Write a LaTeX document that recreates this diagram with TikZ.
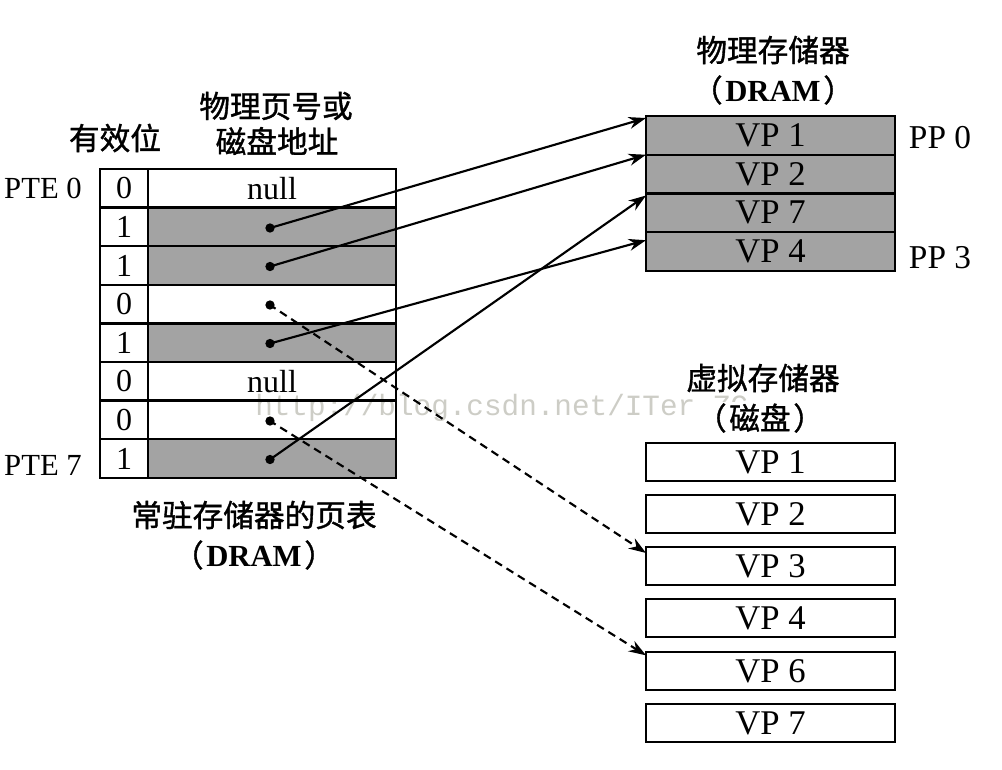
\documentclass[tikz,border=0pt]{standalone}
\usepackage{fontspec}
\setmainfont{Liberation Serif}
\newfontfamily\cjk[FakeBold=1.2]{Noto Sans CJK SC}
\newfontfamily\latb{Liberation Serif}
\newfontfamily\wmfont{Liberation Mono}
\usetikzlibrary{arrows.meta}
\tikzset{
  cell/.style={draw, line width=1.7pt, inner sep=0pt, outer sep=0pt, minimum height=28.95pt,
    font=\fontsize{24}{26}\selectfont},
  vcell/.style={cell, minimum width=36pt},
  acell/.style={cell, minimum width=186pt},
  shaded/.style={fill=black!36},
  mrow/.style={cell, fill=black!36, minimum width=186.75pt, minimum height=29.06pt,
    font=\fontsize{26}{28}\selectfont},
  drow/.style={cell, minimum width=186.75pt, minimum height=28.5pt,
    font=\fontsize{26}{28}\selectfont},
  lbl/.style={inner sep=0pt, font=\fontsize{25}{27}\selectfont},
  ptelbl/.style={inner sep=0pt, font=\fontsize{23}{25}\selectfont},
  cjklbl/.style={inner sep=0pt, font=\cjk\fontsize{23}{26}\selectfont},
  pdot/.style={circle, fill=black, inner sep=0pt, minimum size=7pt},
  link/.style={line width=1.6pt, -{Stealth[length=13pt,width=9pt]}, shorten <=-1pt},
  dlink/.style={link, dash pattern=on 6pt off 4pt},
}
\newcommand{\dram}{（\hspace{2pt}{\latb\bfseries DRAM}\hspace{2pt}）}
\begin{document}
\begin{tikzpicture}[x=0.75pt,y=-0.75pt]
\useasboundingbox (0,0) rectangle (1002,770);
\fill[white] (0,0) rectangle (1002,770);

% watermark
\node[anchor=base west, inner sep=0pt, text={rgb,255:red,205;green,205;blue,198}, font=\wmfont\fontsize{22}{24}\selectfont] (wm) at (255,415) {http://blog.csdn.net/ITer\_ZC};

% page table
\node[vcell] (v0) at (124,188.3) {0};
\node[vcell] (v1) at (124,226.9) {1};
\node[vcell] (v2) at (124,265.5) {1};
\node[vcell] (v3) at (124,304.1) {0};
\node[vcell] (v4) at (124,342.7) {1};
\node[vcell] (v5) at (124,381.3) {0};
\node[vcell] (v6) at (124,419.9) {0};
\node[vcell] (v7) at (124,458.5) {1};
\node[acell] (a0) at (272,188.3) {null};
\node[acell, shaded] (a1) at (272,226.9) {};
\node[acell, shaded] (a2) at (272,265.5) {};
\node[acell] (a3) at (272,304.1) {};
\node[acell, shaded] (a4) at (272,342.7) {};
\node[acell] (a5) at (272,381.3) {null};
\node[acell] (a6) at (272,419.9) {};
\node[acell, shaded] (a7) at (272,458.5) {};

\node[pdot] (d1) at (270,228) {};
\node[pdot] (d2) at (270,266.5) {};
\node[pdot] (d3) at (270,305) {};
\node[pdot] (d4) at (270,343.5) {};
\node[pdot] (d6) at (270,421) {};
\node[pdot] (d7) at (270,459.5) {};

% page table labels
\node[ptelbl] (pte0) at (43,188) {PTE 0};
\node[ptelbl] (pte7) at (43,465) {PTE 7};
\node[cjklbl] (hvalid) at (115,138) {有效位};
\node[cjklbl] (haddr1) at (276,106) {物理页号或};
\node[cjklbl] (haddr2) at (277,141) {磁盘地址};
\node[cjklbl] (ptcap1) at (254,515) {常驻存储器的页表};
\node[cjklbl] (ptcap2) at (254,555) {\dram};

% physical memory
\node[mrow] (m1) at (770.5,135.4) {VP 1};
\node[mrow] (m2) at (770.5,174.1) {VP 2};
\node[mrow] (m3) at (770.5,212.9) {VP 7};
\node[mrow] (m4) at (770.5,251.6) {VP 4};
\node[cjklbl] (pmcap1) at (773,50) {物理存储器};
\node[cjklbl] (pmcap2) at (773,90) {\dram};
\node[lbl] (pp0) at (940,138) {PP 0};
\node[lbl] (pp3) at (940,258) {PP 3};

% virtual memory (disk)
\node[cjklbl] (vmcap1) at (763,378) {虚拟存储器};
\node[cjklbl, fill=white, inner sep=1pt] (vmcap2) at (760,418) {（\hspace{2pt}磁盘\hspace{2pt}）};
\node[drow] (k1) at (770.5,462) {VP 1};
\node[drow] (k2) at (770.5,514) {VP 2};
\node[drow] (k3) at (770.5,566) {VP 3};
\node[drow] (k4) at (770.5,618) {VP 4};
\node[drow] (k5) at (770.5,671) {VP 6};
\node[drow] (k6) at (770.5,723) {VP 7};

% connectors
\draw[link] (d1.center) -- ([yshift=-1.5pt]m1.north west);
\draw[link] (d2.center) -- (m2.north west);
\draw[link] (d7.center) -- ([yshift=-1.5pt]m3.north west);
\draw[link] (d4.center) -- ([yshift=-6pt]m4.north west);
\draw[dlink] (d3.center) -- ([yshift=-4.5pt]k3.north west);
\draw[dlink] (d6.center) -- ([yshift=-2.5pt]k5.north west);
\end{tikzpicture}
\end{document}
